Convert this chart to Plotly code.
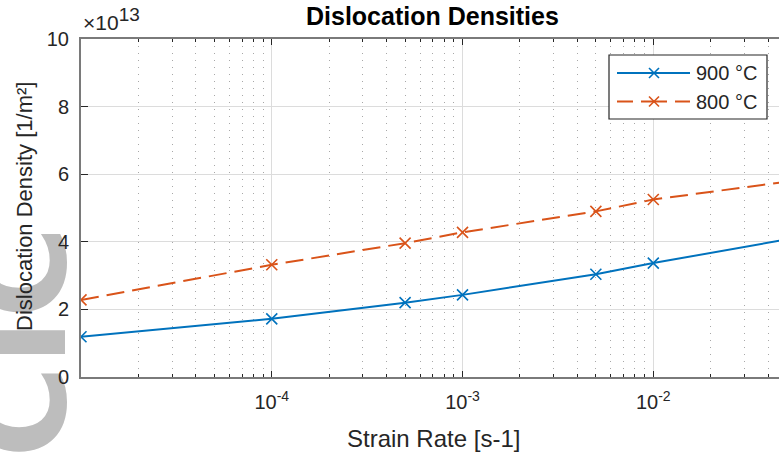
import plotly.graph_objects as go

# ---------------- data ----------------
strain_rate = [1e-5, 1e-4, 5e-4, 1e-3, 5e-3, 1e-2, 5e-2]
rho_900 = [1.19e13, 1.72e13, 2.20e13, 2.43e13, 3.04e13, 3.37e13, 4.07e13]
rho_800 = [2.28e13, 3.32e13, 3.96e13, 4.28e13, 4.90e13, 5.25e13, 5.78e13]
series_names = ["900 °C", "800 °C"]
y_tick_vals = [0, 2e13, 4e13, 6e13, 8e13, 10e13]
y_tick_text = ["0", "2", "4", "6", "8", "10"]
x_tick_vals = [1e-4, 1e-3, 1e-2]
x_tick_text = ["10<sup>-4</sup>", "10<sup>-3</sup>", "10<sup>-2</sup>"]

BLUE = "#0072BD"
ORANGE = "#D95319"
FONT = "Liberation Sans, Arial, sans-serif"
TXT = "#262626"

W, H = 779, 456
L, T, B, R = 81, 39, 79, 0
PW, PH = W - L - R, H - T - B


def px(x):
    return (x - L) / PW


def py(y):
    return (H - B - y) / PH


fig = go.Figure()
fig.add_trace(go.Scatter(
    x=strain_rate, y=rho_900, mode="lines+markers", name=series_names[0],
    line=dict(color=BLUE, width=2),
    marker=dict(symbol="x-thin", size=11, line=dict(color=BLUE, width=1.6)),
    showlegend=False, cliponaxis=True))
fig.add_trace(go.Scatter(
    x=strain_rate, y=rho_800, mode="lines+markers", name=series_names[1],
    line=dict(color=ORANGE, width=2, dash="18px,8px"),
    marker=dict(symbol="x-thin", size=11, line=dict(color=ORANGE, width=1.6)),
    showlegend=False, cliponaxis=True))

shapes = []
annotations = []

# watermark (below everything)
shapes.append(dict(type="rect", xref="paper", yref="paper", layer="below",
                   x0=px(-68), x1=px(92), y0=py(462), y1=py(222),
                   line=dict(width=0), fillcolor="rgba(0,0,0,0)",
                   label=dict(text="<b>CIC</b>", textangle=-90,
                              textposition="middle center",
                              font=dict(family="DejaVu Sans", size=126, color="#bdbdbd"))))

# custom legend
shapes.append(dict(type="rect", xref="paper", yref="paper",
                   x0=px(609), x1=px(767), y0=py(55), y1=py(119),
                   line=dict(color="#262626", width=1.2), fillcolor="white"))
rows = [(73, BLUE, None), (101.5, ORANGE, "dash")]
for i, (yy, col, dsh) in enumerate(rows):
    if dsh is None:
        shapes.append(dict(type="line", xref="paper", yref="paper",
                           x0=px(617), x1=px(690), y0=py(yy), y1=py(yy),
                           line=dict(color=col, width=2)))
    else:
        for a, b in [(617, 633), (641, 667), (675, 690)]:
            shapes.append(dict(type="line", xref="paper", yref="paper",
                               x0=px(a), x1=px(b), y0=py(yy), y1=py(yy),
                               line=dict(color=col, width=2)))
    for dx, dy in [(5, 5), (5, -5)]:
        shapes.append(dict(type="line", xref="paper", yref="paper",
                           x0=px(654 - dx), x1=px(654 + dx), y0=py(yy - dy), y1=py(yy + dy),
                           line=dict(color=col, width=1.6)))
    annotations.append(dict(xref="paper", yref="paper", x=px(694), y=py(yy),
                            xanchor="left", yanchor="middle", showarrow=False,
                            text=series_names[i], font=dict(family=FONT, size=20, color=TXT)))

# title
annotations.append(dict(xref="paper", yref="paper", x=px(432), y=py(32),
                        xanchor="center", yanchor="bottom", showarrow=False,
                        text="<b>Dislocation Densities</b>",
                        font=dict(family=FONT, size=25, color="#000000")))
# exponent
annotations.append(dict(xref="paper", yref="paper", x=px(81), y=py(36),
                        xanchor="left", yanchor="bottom", showarrow=False,
                        text="×10<sup><span style='font-size:19px'>13</span></sup>",
                        font=dict(family=FONT, size=21, color=TXT)))
# y-axis title
annotations.append(dict(xref="paper", yref="paper", x=px(24), y=py(207),
                        xanchor="center", yanchor="middle", showarrow=False,
                        textangle=-90, text="Dislocation Density [1/m²]",
                        font=dict(family=FONT, size=22, color=TXT)))
# x-axis title
annotations.append(dict(xref="paper", yref="paper", x=px(433), y=py(454),
                        xanchor="center", yanchor="bottom", showarrow=False,
                        text="Strain Rate [s-1]",
                        font=dict(family=FONT, size=24, color=TXT)))

fig.update_layout(
    width=W, height=H,
    margin=dict(l=L, r=R, t=T, b=B, pad=0),
    paper_bgcolor="white", plot_bgcolor="white",
    font=dict(family=FONT, size=20, color=TXT),
    shapes=shapes, annotations=annotations,
    showlegend=False,
)
fig.update_xaxes(
    type="log", range=[-5, -1.341],
    tickvals=x_tick_vals, ticktext=x_tick_text,
    ticks="inside", ticklen=6, tickcolor="#262626", tickwidth=1,
    tickfont=dict(family=FONT, size=20, color=TXT),
    showline=True, linecolor="#7a7a7a", linewidth=2, mirror="allticks",
    showgrid=True, gridcolor="#dcdcdc", gridwidth=1,
    minor=dict(ticks="inside", ticklen=3, tickcolor="#262626",
               showgrid=True, gridcolor="#a8a8a8", griddash="1px,6px", gridwidth=1,
               tickvals=[m * 10 ** e for e in range(-5, -1) for m in range(2, 10)]),
    zeroline=False, ticklabelstandoff=6,
)
fig.update_yaxes(
    range=[0, 1e14], tickvals=y_tick_vals, ticktext=y_tick_text,
    ticks="inside", ticklen=7, tickcolor="#262626", tickwidth=1,
    tickfont=dict(family=FONT, size=20, color=TXT),
    showline=True, linecolor="#7a7a7a", linewidth=2, mirror=False,
    showgrid=True, gridcolor="#dcdcdc", gridwidth=1,
    zeroline=False, ticklabelstandoff=6,
)

fig.write_html("out.html")
